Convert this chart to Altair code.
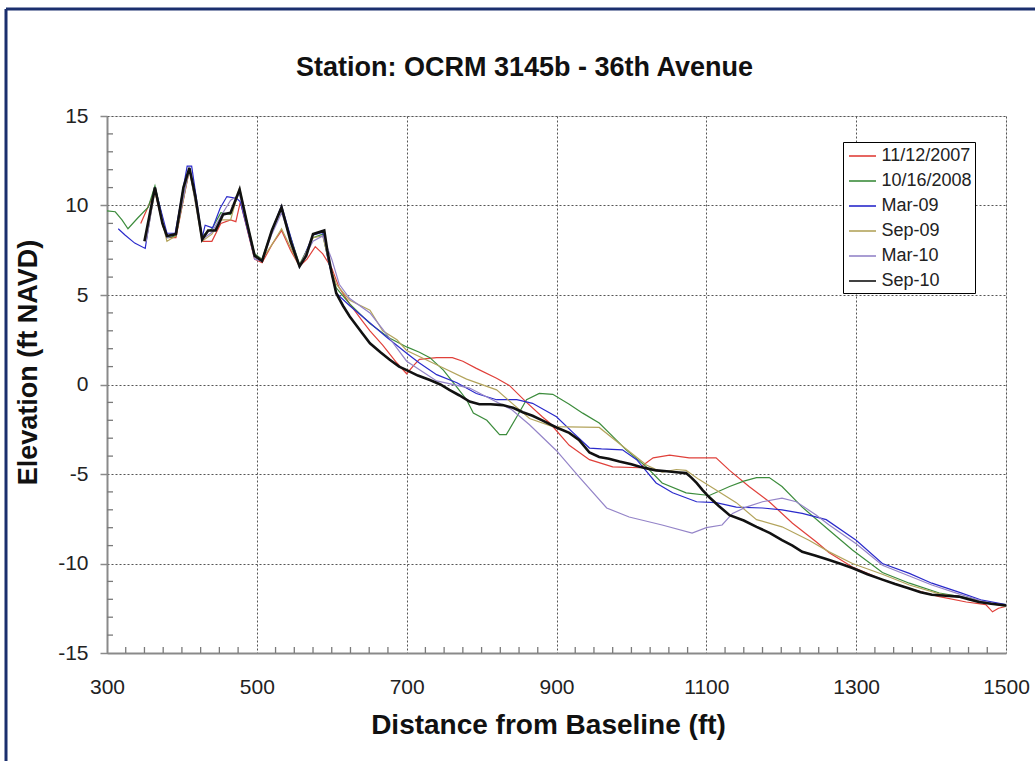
import altair as alt
import pandas as pd

series_names = ["11/12/2007", "10/16/2008", "Mar-09", "Sep-09", "Mar-10", "Sep-10"]
series_colors = ["#E0403A", "#3C8C3C", "#2A2ACB", "#B3A45C", "#9484C8", "#111111"]

x_2007 = [345, 364, 375, 382, 392, 410, 418, 428, 440, 452, 465, 472, 478, 497, 507, 520, 533, 545, 557, 567, 578, 588, 600, 610, 624, 640, 651, 668, 687, 700, 710, 717, 740, 761, 775, 793, 820, 837, 860, 881, 891, 917, 944, 975, 1011, 1029, 1051, 1077, 1113, 1131, 1157, 1184, 1215, 1247, 1264, 1295, 1335, 1371, 1411, 1447, 1473, 1482, 1490, 1500]
y_2007 = [9.0, 10.8, 8.8, 8.2, 8.2, 12.0, 10.3, 8.0, 8.0, 9.0, 9.2, 9.1, 10.2, 7.0, 6.8, 7.8, 8.6, 7.5, 6.6, 7.0, 7.7, 7.3, 6.5, 5.4, 4.5, 3.6, 3.0, 2.2, 1.2, 0.6, 1.1, 1.4, 1.5, 1.5, 1.3, 0.9, 0.35, -0.05, -1.0, -1.8, -2.15, -3.4, -4.2, -4.6, -4.65, -4.1, -3.95, -4.1, -4.1, -4.8, -5.7, -6.55, -7.75, -8.8, -9.4, -10.2, -10.9, -11.4, -11.85, -12.15, -12.3, -12.7, -12.5, -12.4]

x_2008 = [300, 311, 320, 328, 341, 355, 364, 380, 392, 410, 427, 440, 452, 465, 477, 497, 507, 520, 533, 557, 575, 588, 596, 606, 624, 651, 677, 700, 717, 731, 749, 767, 780, 789, 807, 824, 833, 847, 860, 877, 895, 917, 935, 957, 975, 993, 1020, 1041, 1073, 1104, 1131, 1150, 1167, 1184, 1201, 1228, 1260, 1295, 1335, 1371, 1411, 1447, 1473, 1500]
y_2008 = [9.7, 9.65, 9.2, 8.7, 9.3, 9.9, 11.1, 8.2, 8.3, 12.1, 8.3, 8.7, 9.6, 9.5, 10.8, 7.3, 7.0, 8.6, 9.8, 6.7, 8.2, 8.4, 6.8, 5.4, 4.5, 3.4, 2.6, 2.1, 1.8, 1.5, 0.8, -0.15, -0.85, -1.6, -2.0, -2.8, -2.8, -1.8, -0.85, -0.5, -0.55, -1.1, -1.6, -2.15, -2.9, -3.65, -4.6, -5.5, -6.05, -6.2, -5.7, -5.4, -5.2, -5.2, -5.7, -6.85, -8.0, -9.25, -10.5, -11.1, -11.65, -11.9, -12.15, -12.3]

x_mar09 = [315, 324, 337, 351, 364, 380, 391, 407, 413, 427, 431, 441, 451, 460, 473, 478, 497, 507, 520, 533, 557, 575, 588, 595, 606, 624, 641, 673, 700, 717, 740, 767, 793, 820, 847, 868, 900, 921, 944, 960, 988, 1007, 1033, 1055, 1087, 1113, 1140, 1175, 1201, 1228, 1260, 1300, 1335, 1371, 1401, 1437, 1468, 1500]
y_mar09 = [8.7, 8.35, 7.9, 7.6, 11.0, 8.45, 8.45, 12.2, 12.2, 8.2, 8.9, 8.75, 9.85, 10.5, 10.4, 10.2, 7.1, 6.9, 8.6, 10.0, 6.55, 8.35, 8.5, 7.0, 5.1, 4.4, 3.8, 2.65, 1.75, 1.2, 0.55, 0.1, -0.5, -0.85, -0.85, -1.05, -1.8, -2.65, -3.55, -3.6, -3.65, -4.2, -5.5, -6.05, -6.55, -6.6, -6.85, -6.9, -7.0, -7.2, -7.55, -8.7, -10.0, -10.55, -11.1, -11.6, -12.05, -12.3]

x_sep09 = [352, 364, 380, 392, 410, 427, 440, 452, 465, 477, 497, 507, 520, 533, 557, 575, 588, 598, 606, 624, 651, 668, 687, 700, 740, 780, 820, 864, 895, 957, 993, 1020, 1041, 1060, 1073, 1090, 1113, 1140, 1167, 1201, 1237, 1264, 1295, 1335, 1371, 1411, 1447, 1473, 1500]
y_sep09 = [8.0, 10.8, 8.0, 8.3, 12.0, 8.0, 8.4, 9.2, 9.2, 11.0, 7.1, 7.0, 7.8, 8.7, 6.6, 8.2, 8.3, 6.6, 5.6, 4.7, 4.15, 3.0, 2.5, 1.9, 1.1, 0.3, -0.3, -1.9, -2.35, -2.4, -3.6, -4.5, -4.9, -4.75, -4.8, -5.3, -5.9, -6.6, -7.55, -7.95, -8.7, -9.35, -10.0, -10.6, -11.2, -11.7, -11.95, -12.2, -12.4]

x_mar10 = [352, 364, 380, 392, 410, 427, 440, 452, 465, 477, 497, 507, 520, 533, 557, 575, 588, 600, 610, 624, 651, 668, 700, 740, 784, 807, 840, 864, 900, 931, 967, 997, 1041, 1081, 1100, 1121, 1135, 1153, 1175, 1201, 1220, 1247, 1264, 1300, 1335, 1371, 1401, 1437, 1468, 1500]
y_mar10 = [8.0, 10.9, 8.2, 8.4, 12.1, 8.1, 8.5, 9.4, 10.3, 10.6, 7.0, 6.9, 8.4, 9.6, 6.6, 8.0, 8.3, 7.0, 5.6, 4.8, 4.0, 3.1, 1.3, 0.2, -0.2, -0.7, -1.4, -2.25, -3.7, -5.2, -6.9, -7.4, -7.85, -8.3, -8.0, -7.85, -7.2, -6.85, -6.55, -6.35, -6.55, -7.3, -7.85, -8.9, -10.1, -10.7, -11.2, -11.7, -12.1, -12.35]

x_sep10 = [350, 364, 374, 380, 392, 402, 410, 418, 427, 435, 445, 455, 465, 477, 487, 497, 507, 520, 533, 545, 557, 566, 575, 590, 594, 600, 606, 615, 624, 640, 651, 665, 677, 690, 700, 715, 731, 745, 757, 770, 784, 797, 812, 828, 842, 855, 868, 881, 900, 917, 930, 944, 957, 970, 984, 1000, 1011, 1022, 1033, 1047, 1060, 1073, 1080, 1087, 1095, 1104, 1117, 1131, 1150, 1167, 1185, 1201, 1215, 1228, 1245, 1260, 1278, 1295, 1315, 1335, 1352, 1371, 1386, 1401, 1420, 1437, 1450, 1464, 1480, 1500]
y_sep10 = [8.0, 11.0, 9.0, 8.3, 8.4, 11.0, 12.1, 10.5, 8.1, 8.6, 8.6, 9.5, 9.6, 10.9, 9.0, 7.2, 6.9, 8.6, 9.9, 8.0, 6.6, 7.2, 8.4, 8.6, 7.5, 6.2, 5.1, 4.4, 3.8, 2.9, 2.3, 1.8, 1.4, 1.0, 0.8, 0.5, 0.25, 0.0, -0.3, -0.6, -0.95, -1.1, -1.1, -1.15, -1.3, -1.55, -1.75, -2.0, -2.4, -2.7, -3.1, -3.8, -4.05, -4.15, -4.3, -4.45, -4.6, -4.7, -4.8, -4.85, -4.9, -4.95, -5.2, -5.5, -5.9, -6.3, -6.8, -7.3, -7.6, -7.95, -8.3, -8.7, -9.0, -9.35, -9.55, -9.75, -10.0, -10.25, -10.6, -10.9, -11.15, -11.4, -11.6, -11.75, -11.8, -11.85, -12.0, -12.15, -12.25, -12.35]

x_major = [300, 500, 700, 900, 1100, 1300, 1500]
y_major = [-15, -10, -5, 0, 5, 10, 15]
x_minor = [v for v in range(325, 1500, 25) if (v - 300) % 200 != 0]
y_minor = [v for v in range(-14, 15) if v % 5 != 0]

all_x = [x_2007, x_2008, x_mar09, x_sep09, x_mar10, x_sep10]
all_y = [y_2007, y_2008, y_mar09, y_sep09, y_mar10, y_sep10]
rows = []
for name, xs, ys in zip(series_names, all_x, all_y):
    for i, (a, b) in enumerate(zip(xs, ys)):
        rows.append({"series": name, "x": a, "y": b, "i": i})
df = pd.DataFrame(rows)

FONT = "Liberation Sans"
W, H = 899, 537

xscale = alt.Scale(domain=[300, 1500], nice=False, zero=False)
yscale = alt.Scale(domain=[-15, 15], nice=False, zero=False)
color_scale = alt.Scale(domain=series_names, range=series_colors)

legend = alt.Legend(
    title=None, orient="none", legendX=736, legendY=26,
    direction="vertical",
    symbolType="M-1.35,0H1.35", symbolSize=400, symbolStrokeWidth=1.6,
    symbolOffset=5.5, labelOffset=8, rowPadding=5, padding=3,
    labelFont=FONT, labelFontSize=18, labelColor="#222222", labelLimit=300,
    strokeColor="#000000", fillColor="#ffffff",
)

x_axis = alt.Axis(values=x_major, ticks=False, grid=True, gridDash=[2, 2], gridColor="#555555",
                  gridWidth=1, labelFont=FONT, labelFontSize=21, labelColor="#222222",
                  labelExpr="'' + datum.value", labelFlush=False, labelOverlap=False,
                  labelPadding=23, domainColor="#8a8a8a", domainWidth=2,
                  title="Distance from Baseline (ft)", titleFont=FONT, titleFontSize=28,
                  titleFontWeight="bold", titleColor="#111111", titlePadding=14, titleX=441)
y_axis = alt.Axis(values=y_major, ticks=True, tickSize=7, tickColor="#8a8a8a", tickWidth=1.5,
                  grid=True, gridDash=[2, 2], gridColor="#555555", gridWidth=1,
                  labelExpr="'' + datum.value", labelFlush=False, labelOverlap=False,
                  labelFont=FONT, labelFontSize=21, labelColor="#222222", labelPadding=12,
                  domainColor="#8a8a8a", domainWidth=2,
                  title="Elevation (ft NAVD)", titleFont=FONT, titleFontSize=27,
                  titleFontWeight="bold", titleColor="#111111", titlePadding=15, titleY=246)

thin = alt.Chart(df).transform_filter(alt.datum.series != "Sep-10").mark_line(strokeWidth=1.2, clip=True).encode(
    x=alt.X("x:Q", scale=xscale, axis=x_axis),
    y=alt.Y("y:Q", scale=yscale, axis=y_axis),
    color=alt.Color("series:N", scale=color_scale, legend=legend, sort=series_names),
    detail="series:N",
    order="i:Q",
)
thick = alt.Chart(df).transform_filter(alt.datum.series == "Sep-10").mark_line(strokeWidth=2.6, clip=True).encode(
    x=alt.X("x:Q", scale=xscale),
    y=alt.Y("y:Q", scale=yscale),
    color=alt.Color("series:N", scale=color_scale, legend=legend, sort=series_names),
    order="i:Q",
)

xt = alt.Chart(pd.DataFrame({"x": x_minor})).mark_rule(color="#7a7a7a", strokeWidth=1.3).encode(
    x=alt.X("x:Q", scale=xscale), y=alt.value(H), y2=alt.value(H - 6))
yt = alt.Chart(pd.DataFrame({"y": y_minor})).mark_rule(color="#7a7a7a", strokeWidth=1.3).encode(
    y=alt.Y("y:Q", scale=yscale), x=alt.value(0), x2=alt.value(6))

frame_top = alt.Chart(alt.Data(values=[{"k": 1}])).mark_rule(color="#1b2f6e", strokeWidth=3).encode(
    x=alt.value(-101), x2=alt.value(1035), y=alt.value(-107))
frame_left = alt.Chart(alt.Data(values=[{"k": 1}])).mark_rule(color="#1b2f6e", strokeWidth=3).encode(
    x=alt.value(-101), y=alt.value(-107), y2=alt.value(761))

chart = alt.layer(xt, yt, thin, thick, frame_top, frame_left).properties(
    width=W, height=H,
    autosize=alt.AutoSizeParams(type="none"),
    padding={"left": 107, "top": 116, "right": 29, "bottom": 108},
    title=alt.TitleParams("Station: OCRM 3145b - 36th Avenue", font=FONT, fontSize=27,
                          fontWeight="bold", color="#111111", anchor="middle",
                          baseline="alphabetic", offset=0, dx=-32, dy=95.5),
).configure_view(stroke="#8a8a8a", strokeWidth=2).configure(background="white")

chart.save("out.html", embed_options={"renderer": "svg", "actions": False})
